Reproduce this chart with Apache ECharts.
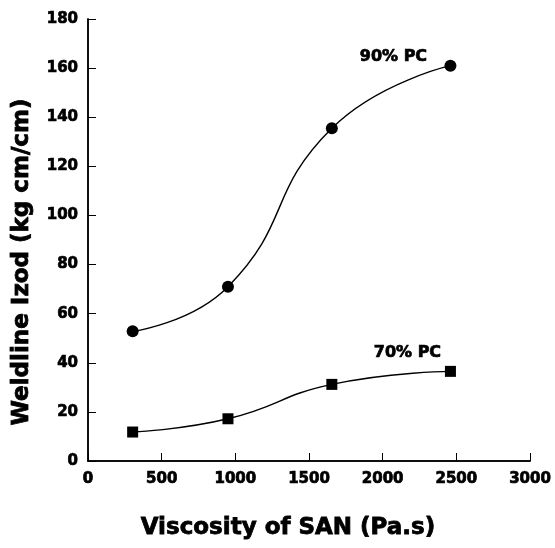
<!DOCTYPE html>
<html><head><meta charset="utf-8">
<script src="https://cdn.jsdelivr.net/npm/echarts@6/dist/echarts.min.js"></script>
<style>html,body{margin:0;padding:0;background:#fff}#c{width:555px;height:548px}</style>
</head><body><div id="c"></div>
<script>
const viscosity = [303, 950, 1655, 2460];
const pc90 = [52.8, 71.0, 135.5, 161.0];
const pc70 = [11.8, 17.2, 31.2, 36.5];
const xTicks = [0, 500, 1000, 1500, 2000, 2500, 3000];
const yTicks = [0, 20, 40, 60, 80, 100, 120, 140, 160, 180];
const seriesNames = ['90% PC', '70% PC'];
const xTitle = 'Viscosity of SAN (Pa.s)';
const yTitle = 'Weldline Izod (kg cm/cm)';

const F = 'DejaVu Sans';
const heavy = {textBorderColor:'#000', textBorderWidth:0.7};
const chart = echarts.init(document.getElementById('c'));
function pts(ys){ return viscosity.map((x,i)=>[x, ys[i]]); }
function withLabel(data, name, off){
  const d = data.map(p=>({value:p}));
  d[d.length-1].label = Object.assign({show:true, position:'inside', offset:off, formatter:name,
    fontFamily:F, fontWeight:'bold', fontSize:16, color:'#000'}, heavy);
  return d;
}
chart.setOption({
  animation:false,
  backgroundColor:'#fff',
  grid:{left:88, top:19, width:442, height:442},
  xAxis:[{type:'value', min:xTicks[0], max:xTicks[xTicks.length-1], interval:xTicks[1]-xTicks[0],
    axisLine:{lineStyle:{color:'#000', width:1.5}},
    axisTick:{inside:true, length:8, lineStyle:{color:'#000'}},
    splitLine:{show:false},
    axisLabel:Object.assign({color:'#000', fontFamily:F, fontWeight:'bold', fontSize:15, margin:11,
      formatter:v=>String(v)}, heavy)},
   {type:'value', position:'top', min:0, max:3000,
    axisLine:{lineStyle:{color:'#000', width:1.5}}, axisTick:{show:false}, axisLabel:{show:false}, splitLine:{show:false}}],
  yAxis:[{type:'value', min:yTicks[0], max:yTicks[yTicks.length-1], interval:yTicks[1]-yTicks[0],
    axisLine:{lineStyle:{color:'#000', width:1.5}},
    axisTick:{inside:true, length:8, lineStyle:{color:'#000'}},
    splitLine:{show:false},
    axisLabel:Object.assign({color:'#000', fontFamily:F, fontWeight:'bold', fontSize:15, margin:10,
      formatter:v=>String(v)}, heavy)},
   {type:'value', position:'right', min:0, max:180,
    axisLine:{lineStyle:{color:'#000', width:1.5}}, axisTick:{show:false}, axisLabel:{show:false}, splitLine:{show:false}}],
  graphic:[
    {type:'text', x:288, y:528, style:{text:xTitle, fill:'#000', font:'bold 23px "DejaVu Sans"',
      textAlign:'center', textVerticalAlign:'middle', stroke:'#000', lineWidth:0.8}},
    {type:'text', x:22, y:262, rotation:Math.PI/2, style:{text:yTitle, fill:'#000', font:'bold 23px "DejaVu Sans"',
      textAlign:'center', textVerticalAlign:'middle', stroke:'#000', lineWidth:0.8}}
  ],
  series:[
    {name:seriesNames[0], type:'line', smooth:0.5, data:withLabel(pts(pc90), seriesNames[0], [-57,-9]),
     symbol:'circle', symbolSize:12, itemStyle:{color:'#000'}, lineStyle:{color:'#000', width:1.4}},
    {name:seriesNames[1], type:'line', smooth:0.5, data:withLabel(pts(pc70), seriesNames[1], [-43,-19]),
     symbol:'rect', symbolSize:11, itemStyle:{color:'#000'}, lineStyle:{color:'#000', width:1.4}}
  ]
});
</script></body></html>
